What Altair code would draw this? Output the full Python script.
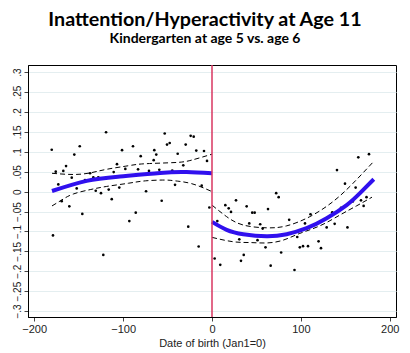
import altair as alt
import pandas as pd

# scatter points (date of birth, outcome)
left_x = [-180.3, -178.9, -175.8, -172.9, -169.1, -167.3, -164.2, -160.5, -157.8, -154.9,
          -152.2, -148.8, -145.9, -142.9, -137.2, -133.5, -130.8, -127.9, -124.9, -122.3,
          -119.2, -116.2, -112.8, -110.6, -106.9, -104.3, -101.2, -97.5, -93.0, -88.9,
          -85.8, -83.2, -80.2, -74.2, -70.9, -65.6, -64.9, -62.7, -59.3, -56.6,
          -53.2, -50.6, -47.6, -44.7, -41.6, -38.6, -32.3, -29.6, -26.7, -24.0,
          -20.6, -17.7, -15.0, -11.6, -9.0, -5.6, -3.0]
left_y = [0.105, -0.110, 0.050, 0.018, -0.024, 0.052, 0.064, -0.037, 0.035, 0.093,
          0.008, 0.114, -0.056, 0.029, 0.046, 0.036, 0.002, 0.036, -0.004, -0.159,
          0.149, 0.005, -0.019, 0.049, 0.069, 0.010, 0.104, 0.057, -0.074, 0.114,
          -0.053, 0.056, 0.089, 0.001, 0.052, 0.079, 0.104, 0.093, 0.055, -0.023,
          0.146, 0.118, 0.122, 0.053, 0.017, 0.095, 0.066, 0.118, -0.088, 0.140,
          0.138, 0.103, -0.138, 0.015, 0.102, 0.077, -0.040]
right_x = [3.0, 6.0, 9.3, 15.0, 18.8, 21.4, 27.0, 30.7, 32.6, 35.7,
           39.0, 41.9, 45.3, 48.0, 51.2, 54.2, 57.0, 60.2, 63.0, 66.0,
           72.2, 75.0, 77.8, 86.8, 92.8, 95.9, 98.8, 102.4, 104.6, 108.0,
           110.8, 119.9, 122.6, 129.0, 135.3, 138.0, 140.6, 145.1, 149.6, 152.4,
           158.4, 161.6, 164.6, 167.6, 170.6, 173.8, 176.6]
right_y = [-0.168, -0.074, -0.184, -0.034, -0.042, -0.051, -0.022, -0.120, -0.174, -0.159,
           -0.037, -0.080, -0.053, -0.053, -0.122, -0.082, -0.093, -0.140, -0.044, -0.186,
           -0.004, -0.014, -0.153, -0.071, -0.197, -0.114, -0.140, -0.137, -0.080, -0.137,
           -0.057, -0.125, -0.142, -0.090, -0.052, -0.081, 0.054, -0.041, 0.020, -0.090,
           -0.025, 0.010, 0.086, -0.022, -0.036, -0.014, 0.094]

# fitted curves
fit_left_x = [-180, -141, -103.5, -58.5, -28.5, 0]
fit_left_y = [0.0015, 0.027, 0.038, 0.047, 0.049, 0.046]
fit_right_x = [0, 16.5, 35.2, 61.5, 84.0, 106.5, 129.0, 151.5, 166.5, 182]
fit_right_y = [-0.076, -0.096, -0.107, -0.112, -0.107, -0.092, -0.067, -0.034, -0.004, 0.031]

ci_left_hi_x = [-180, -156, -137, -118.5, -94, -75, -41.6, -23, 0]
ci_left_hi_y = [0.046, 0.043, 0.047, 0.056, 0.065, 0.070, 0.073, 0.079, 0.094]
ci_left_lo_x = [-180, -169, -156, -137, -118.5, -94, -75, -53, -41.6, -23, 0]
ci_left_lo_y = [-0.036, -0.021, -0.006, 0.005, 0.013, 0.021, 0.027, 0.029, 0.027, 0.020, 0.000]
ci_right_hi_x = [0, 16.5, 35.2, 61.5, 84.0, 110.0, 136.2, 158.7, 182]
ci_right_hi_y = [-0.034, -0.063, -0.084, -0.091, -0.086, -0.063, -0.025, 0.021, 0.076]
ci_right_lo_x = [0, 24.0, 42.7, 61.5, 80.0, 98.8, 121.3, 143.8, 162.5, 180]
ci_right_lo_y = [-0.115, -0.126, -0.128, -0.129, -0.122, -0.105, -0.086, -0.059, -0.036, -0.014]

y_ticks = [-0.3, -0.25, -0.2, -0.15, -0.1, -0.05, 0, 0.05, 0.1, 0.15, 0.2, 0.25, 0.3]
x_ticks = [-200, -100, 0, 100, 200]

pts = pd.DataFrame({"x": left_x + right_x, "y": left_y + right_y})

def seg(xs, ys, name):
    return pd.DataFrame({"x": xs, "y": ys, "seg": name})

fit = pd.concat([seg(fit_left_x, fit_left_y, "L"), seg(fit_right_x, fit_right_y, "R")])
ci = pd.concat([seg(ci_left_hi_x, ci_left_hi_y, "LH"), seg(ci_left_lo_x, ci_left_lo_y, "LL"),
                seg(ci_right_hi_x, ci_right_hi_y, "RH"), seg(ci_right_lo_x, ci_right_lo_y, "RL")])
cut = pd.DataFrame({"x": [0]})

xscale = alt.Scale(domain=[-207, 207], nice=False, zero=False)
yscale = alt.Scale(domain=[-0.315, 0.318], nice=False, zero=False)

xaxis = alt.Axis(values=x_ticks, format="d", grid=False, tickCount=5,
                 labelOverlap=False, labelFlush=False)
yaxis = alt.Axis(values=y_ticks, grid=True, labelAngle=270, tickCount=13,
                 labelAlign="center", labelBaseline="bottom", labelFontSize=10,
                 labelOverlap=False, labelFlush=False,
                 labelExpr="replace(format(datum.value, '.2~f'), '0.', '.')")

xenc = alt.X("x:Q", scale=xscale, title="Date of birth (Jan1=0)", axis=xaxis)
yenc = alt.Y("y:Q", scale=yscale, title=None, axis=yaxis)

points = alt.Chart(pts).mark_circle(size=7, color="black", opacity=1).encode(x=xenc, y=yenc)
cis = alt.Chart(ci).mark_line(color="black", strokeWidth=1, strokeDash=[5, 3],
                              interpolate="natural").encode(x=xenc, y=yenc, detail="seg:N")
fits = alt.Chart(fit).mark_line(color="#3010ee", strokeWidth=4,
                                interpolate="natural").encode(x=xenc, y=yenc, detail="seg:N")
vline = alt.Chart(cut).mark_rule(color="#d83660", strokeWidth=1.5).encode(x=xenc)

chart = alt.layer(points, cis, fits, vline).properties(
    width=368, height=252,
    autosize=alt.AutoSizeParams(type="none"),
    padding={"left": 28, "top": 65, "right": 14, "bottom": 36},
    title=alt.TitleParams(
        text="Inattention/Hyperactivity at Age 11",
        subtitle="Kindergarten at age 5 vs. age 6",
        font="Lato", fontSize=19.7, fontWeight="bold", color="black",
        subtitleFont="Lato", subtitleFontSize=14, subtitleFontWeight="bold",
        subtitleColor="black", subtitlePadding=3,
        anchor="middle", dx=-7, offset=18),
).configure_view(stroke="black", strokeWidth=1).configure_axis(
    domainColor="black", tickColor="#444", tickSize=4,
    labelFont="Liberation Sans", labelFontSize=11, labelColor="#222",
    titleFont="Liberation Sans", titleFontSize=11, titleFontWeight="normal",
    titleColor="#222", gridColor="#e4eef0", labelPadding=2, titlePadding=3,
)

chart.save("out.html", embed_options={"renderer": "svg", "actions": False})
